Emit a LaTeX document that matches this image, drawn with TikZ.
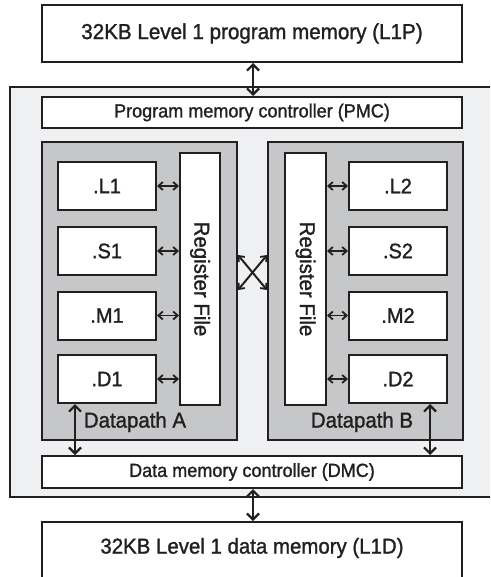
\documentclass[tikz,border=0pt]{standalone}
\usepackage{fontspec}
\setmainfont[FakeStretch=0.95,FakeBold=1.3]{Liberation Sans}
\usetikzlibrary{arrows.meta}
\definecolor{ink}{HTML}{231F20}
\definecolor{outerfill}{HTML}{EFF0F2}
\definecolor{dpfill}{HTML}{C6C7C9}
\begin{document}
\begin{tikzpicture}[x=1pt,y=-1pt,
  box/.style={draw=ink,line width=2pt,fill=white,inner sep=0pt,text=ink},
  dpbox/.style={draw=ink,line width=2pt,fill=dpfill,inner sep=0pt},
  unitbox/.style={box,minimum width=98pt,minimum height=48pt,font=\fontsize{21}{23}\selectfont},
  rfbox/.style={box,minimum width=40pt,minimum height=252pt},
  dar/.style={draw=ink,line width=2.2pt,{Straight Barb[length=6pt,width=12pt,line width=2.2pt]}-{Straight Barb[length=6pt,width=12pt,line width=2.2pt]}},
  sar/.style={draw=ink,line width=1.8pt,{Straight Barb[length=4.5pt,width=8pt,line width=1.8pt]}-{Straight Barb[length=4.5pt,width=8pt,line width=1.8pt]}},
  lbl/.style={text=ink,inner sep=0pt}]
\useasboundingbox (0,0) rectangle (490,577);
\clip (0,0) rectangle (490,577);
\fill[white] (0,0) rectangle (490,577);
% memories
\node[box,minimum width=420pt,minimum height=57pt,font=\fontsize{21.7}{24}\selectfont] (l1p) at (252,33.5) {32KB Level 1 program memory (L1P)};
\node[draw=ink,line width=2.5pt,fill=outerfill,minimum width=490pt,minimum height=410pt,inner sep=0pt] (core) at (255,292) {};
\node[box,minimum width=420pt,minimum height=31pt,font=\fontsize{19}{21}\selectfont] (pmc) at (252,112.5) {Program memory controller (PMC)};
\node[box,minimum width=420pt,minimum height=32pt,font=\fontsize{19}{21}\selectfont] (dmc) at (252,472) {Data memory controller (DMC)};
\node[box,minimum width=420pt,minimum height=78pt] (l1d) at (252,561) {};
\node[lbl,font=\fontsize{21.5}{24}\selectfont] (l1dt) at (252,548) {32KB Level 1 data memory (L1D)};
% datapaths
\node[dpbox,minimum width=195pt,minimum height=298pt] (dpa) at (139.5,291) {};
\node[dpbox,minimum width=195pt,minimum height=298pt] (dpb) at (365.5,291) {};
\node[rfbox] (rfa) at (200,279) {\rotatebox{-90}{\fontsize{21.5}{23}\selectfont Register File}};
\node[rfbox,minimum width=41pt] (rfb) at (305.5,279) {\rotatebox{-90}{\fontsize{21.5}{23}\selectfont Register File}};
\node[unitbox] (l1) at (107,186) {.L1};
\node[unitbox] (s1) at (107,251) {.S1};
\node[unitbox] (m1) at (107,315.5) {.M1};
\node[unitbox] (d1) at (107,379) {.D1};
\node[unitbox] (l2) at (398,186) {.L2};
\node[unitbox] (s2) at (398,251) {.S2};
\node[unitbox] (m2) at (398,315.5) {.M2};
\node[unitbox] (d2) at (398,379) {.D2};
\node[lbl,font=\fontsize{21.5}{23}\selectfont] (dpal) at (135,422) {Datapath A};
\node[lbl,font=\fontsize{21.5}{23}\selectfont] (dpbl) at (362,422) {Datapath B};
% connectors
\draw[dar] (l1p.south -| 253,0) -- (pmc.north -| 253,0);
\draw[dar] (dmc.south -| 253,0) -- (l1d.north -| 253,0);
\draw[dar] (d1.south -| 75,0) -- (dmc.north -| 75,0);
\draw[dar] (d2.south -| 430,0) -- (dmc.north -| 430,0);
\foreach \u in {l1,s1,m1,d1} \draw[sar] (\u.east) -- (\u.east -| rfa.west);
\foreach \u in {l2,s2,m2,d2} \draw[sar] (\u.west) -- (\u.west -| rfb.east);
\coordinate (xa1) at (dpa.east |- 0,255);
\coordinate (xa2) at (dpa.east |- 0,290);
\coordinate (xb1) at (dpb.west |- 0,255);
\coordinate (xb2) at (dpb.west |- 0,290);
\draw[sar,line width=2pt] (xa1) -- (xb2);
\draw[sar,line width=2pt] (xa2) -- (xb1);
\end{tikzpicture}
\end{document}
